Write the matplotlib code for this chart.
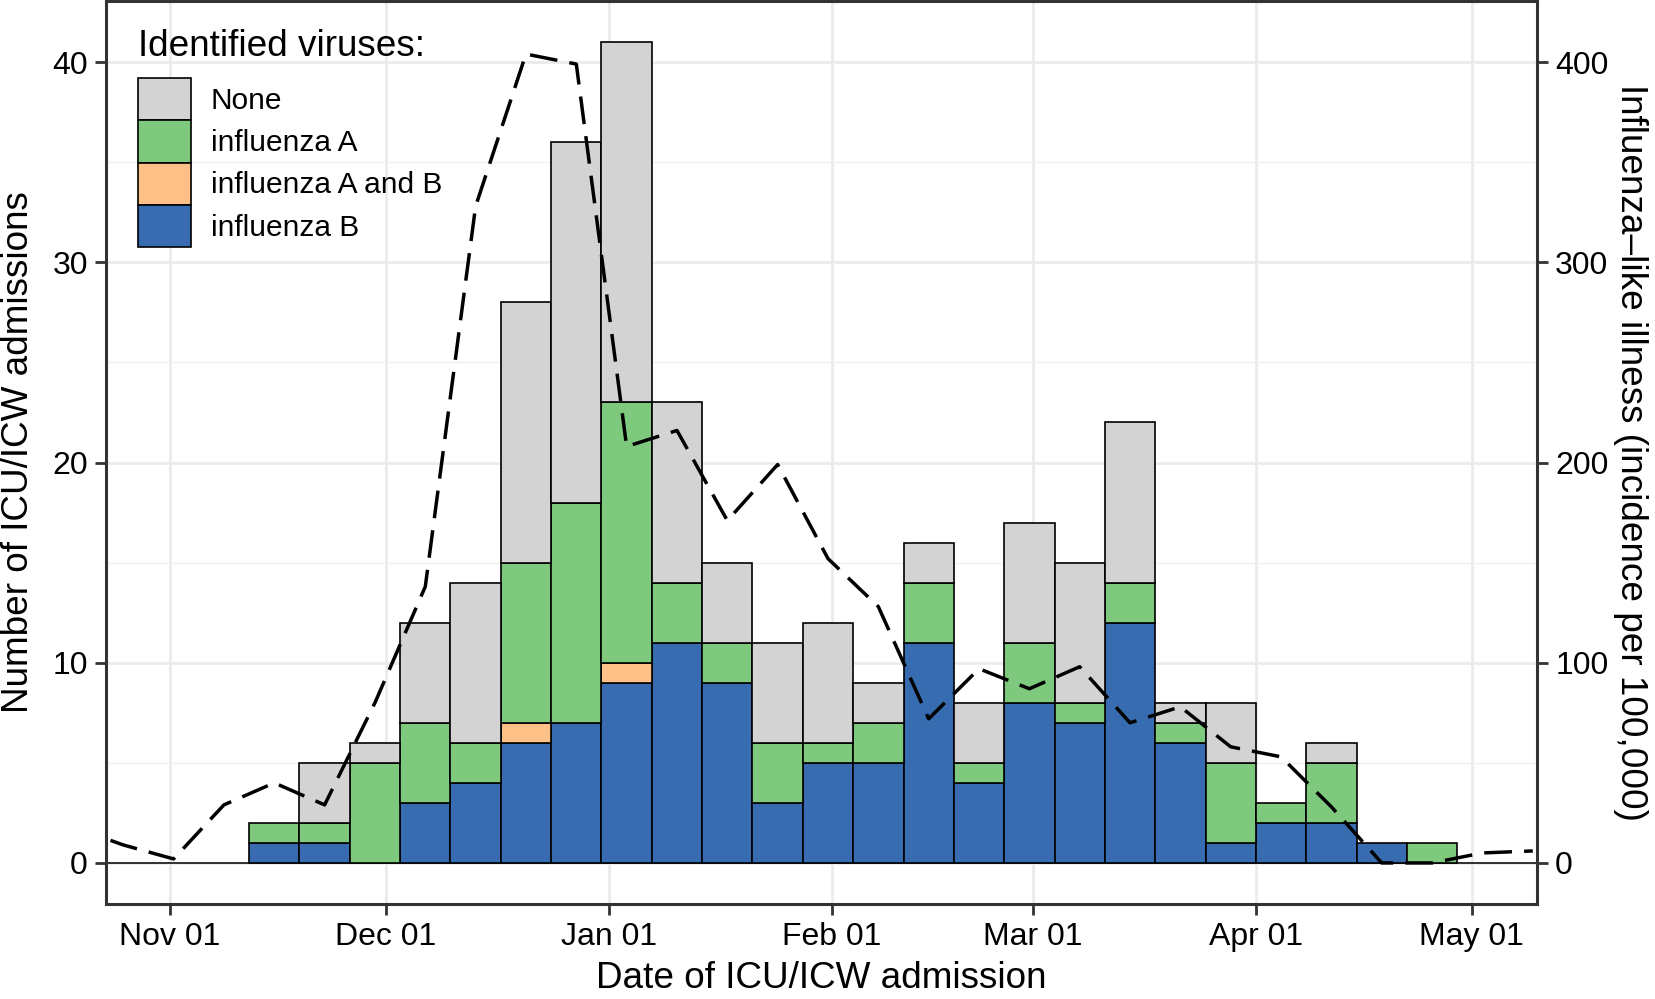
import matplotlib
matplotlib.use("Agg")
import matplotlib.pyplot as plt
import matplotlib.dates as mdates
from matplotlib.patches import Patch
from matplotlib.ticker import FixedLocator, MultipleLocator
import numpy as np
import pandas as pd

plt.rcParams['font.family'] = ['Liberation Sans', 'DejaVu Sans']

# ---------------- data ----------------
week_start = pd.date_range("2017-11-12", periods=24, freq="7D")
flu_b  = [1, 1, 0, 3, 4, 6, 7, 9, 11, 9, 3, 5, 5, 11, 4, 8, 7, 12, 6, 1, 2, 2, 1, 0]
flu_ab = [0, 0, 0, 0, 0, 1, 0, 1, 0, 0, 0, 0, 0, 0, 0, 0, 0, 0, 0, 0, 0, 0, 0, 0]
flu_a  = [1, 1, 5, 4, 2, 8, 11, 13, 3, 2, 3, 1, 2, 3, 1, 3, 1, 2, 1, 4, 1, 3, 0, 1]
none   = [0, 3, 1, 5, 8, 13, 18, 18, 9, 4, 5, 6, 2, 2, 3, 6, 7, 8, 1, 3, 0, 1, 0, 0]

ili_week_start = pd.date_range("2017-10-15", periods=30, freq="7D")
ili = [18, 9, 2, 29, 40, 29, 80, 138, 328, 404, 399, 208, 216, 171, 199, 152,
       128, 72, 97, 87, 98, 70, 78, 58, 53, 28, 0, 0, 5, 6]

series_labels = ["None", "influenza A", "influenza A and B", "influenza B"]
series_colors = {"None": "#D3D3D3", "influenza A": "#7FC97F",
                 "influenza A and B": "#FDC086", "influenza B": "#386CB0"}
month_ticks = pd.date_range("2017-11-01", "2018-05-01", freq="MS")

# ---------------- figure ----------------
fig = plt.figure(figsize=(16.56, 9.99), dpi=100)
ax = fig.add_axes([0.0640, 0.0951, 0.8641, 0.9039])

x = mdates.date2num(week_start)
bottom = np.zeros(len(x))
stack = [("influenza B", flu_b), ("influenza A and B", flu_ab),
         ("influenza A", flu_a), ("None", none)]
for lab, vals in stack:
    vals = np.asarray(vals, dtype=float)
    m = vals > 0
    ax.bar(x[m], vals[m], width=7, bottom=bottom[m], align='edge',
           color=series_colors[lab], edgecolor='black', linewidth=1.2, zorder=3)
    bottom += vals

ax.axhline(0, color='black', lw=1.1, zorder=2)

ax.set_ylim(-2.05, 43.05)
x0 = mdates.date2num(pd.Timestamp("2017-11-01")) - 8.9
x1 = mdates.date2num(pd.Timestamp("2018-05-01")) + 9.08
ax.set_xlim(x0, x1)

ax.xaxis.set_major_locator(FixedLocator(mdates.date2num(month_ticks)))
ax.xaxis.set_major_formatter(mdates.DateFormatter("%b %d"))
ax.yaxis.set_major_locator(MultipleLocator(10))
ax.yaxis.set_minor_locator(FixedLocator([5, 15, 25, 35]))

ax.set_axisbelow(True)
ax.grid(which='major', color='#EBEBEB', lw=2.0)
ax.grid(which='minor', axis='y', color='#F0F0F0', lw=1.0)

for s in ax.spines.values():
    s.set_color('#333333')
    s.set_linewidth(2.2)

ax.tick_params(axis='both', which='major', length=7.6, width=2.0, color='#333333',
               labelsize=23, labelcolor='black', pad=5.5)
ax.tick_params(axis='y', which='minor', length=0)

ax.set_ylabel("Number of ICU/ICW admissions", fontsize=26.6, va='center')
ax.yaxis.set_label_coords(-0.0608, 0.5)
ax.set_xlabel("Date of ICU/ICW admission", fontsize=26.6, va='center')
ax.xaxis.set_label_coords(0.5, -0.082)

# secondary axis: ILI
ax2 = ax.twinx()
ax2.plot(mdates.date2num(ili_week_start) + 3.5, ili, color='black', lw=2.5,
         linestyle=(0, (8, 3.5)), zorder=5)
ax2.set_ylim(-20.5, 430.5)
ax2.set_xlim(x0, x1)
ax2.yaxis.set_major_locator(MultipleLocator(100))
for s in ax2.spines.values():
    s.set_visible(False)
ax2.tick_params(axis='y', which='major', length=7.6, width=2.0, color='#333333',
                labelsize=23, labelcolor='black', pad=5.5)
ax2.set_ylabel("Influenza\u2013like illness (incidence per 100,000)", fontsize=26.6,
               rotation=270, va='center')
ax2.yaxis.set_label_coords(1.0655, 0.5)

# legend
handles = [Patch(facecolor=series_colors[l], edgecolor='black', linewidth=1.2)
           for l in series_labels]
leg = ax.legend(handles, series_labels, title="Identified viruses:",
                loc='upper left', bbox_to_anchor=(0.0225, 0.9695),
                frameon=False, fontsize=21.5, title_fontsize=26.6,
                handlelength=1.77, handleheight=1.80, labelspacing=0,
                handletextpad=0.66, borderpad=0, borderaxespad=0,
                alignment='left')
leg._legend_box.sep = 10.5
leg.set_zorder(10)

fig.savefig("out.png", dpi=100)
